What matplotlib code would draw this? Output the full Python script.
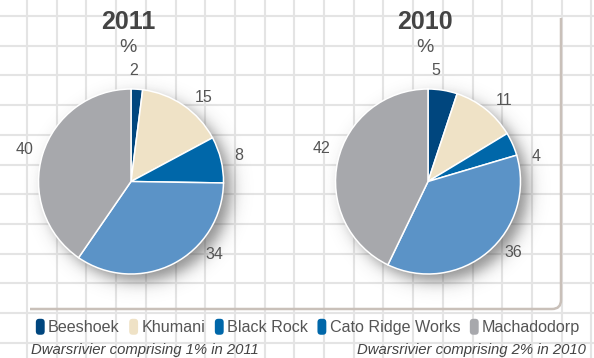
import numpy as np
import matplotlib
matplotlib.use("Agg")
import matplotlib.pyplot as plt
from matplotlib.patches import FancyBboxPatch, Patch, PathPatch
from matplotlib.legend_handler import HandlerPatch
from matplotlib.path import Path

plt.rcParams["font.family"] = ["Liberation Sans", "DejaVu Sans"]

# Data
mines = ["Beeshoek", "Khumani", "Black Rock", "Cato Ridge Works", "Machadodorp"]
years = ["2011", "2010"]
share_2011 = [2, 15, 8, 34, 40]
share_2010 = [5, 11, 4, 36, 42]
notes = ["Dwarsrivier comprising 1% in 2011", "Dwarsrivier comprising 2% in 2010"]

slice_colors = ["#00467e", "#efe2c6", "#0067a9", "#5b93c7", "#a7a8ac"]
legend_colors = ["#00467e", "#efe2c6", "#0067a9", "#0067a9", "#a7a8ac"]

# small angular nudges (degrees) so the value labels sit clear of each other
label_nudge = {
    "2011": [2.5, -6.6, 0.0, 21.7, 0.5],
    "2010": [4.9, -4.4, -11.1, 9.9, -4.3],
}

W, H = 594, 358
fig = plt.figure(figsize=(W / 100, H / 100), dpi=100)
fig.patch.set_facecolor("white")

# background grid
bg = fig.add_axes([0, 0, 1, 1])
bg.set_xlim(0, W)
bg.set_ylim(H, 0)
bg.axis("off")
step = 29.7
for x in np.arange(27, W, step):
    bg.axvline(x, color="#e4e4e4", lw=1.5, zorder=0)
for y in np.arange(16, H, step):
    bg.axhline(y, color="#e4e4e4", lw=1.5, zorder=0)

# rounded frame line on the right and bottom
r = 9
verts = [(561, 18), (561, 309 - r), (561, 309), (561 - r, 309), (30, 309)]
codes = [Path.MOVETO, Path.LINETO, Path.CURVE3, Path.CURVE3, Path.LINETO]
bg.add_patch(PathPatch(Path(verts, codes), fill=False, edgecolor="#c9c0b9",
                       lw=1.8, zorder=2))

R = 92.5
centers = {"2011": (131, 181.5), "2010": (428, 181.5)}
data = {"2011": share_2011, "2010": share_2010}


def shadow_image(ox, oy, spread):
    n = 300
    g = np.linspace(-1.4, 1.4, n)
    xx, yy = np.meshgrid(g, g)
    d = np.hypot(xx - ox, yy - oy)
    a = 0.5 * (1 - np.tanh((d - 1.0) / spread)) * 0.55
    img = np.zeros((n, n, 4))
    img[..., :3] = 0.2
    img[..., 3] = a
    return img


for yr in years:
    cx, cy = centers[yr]
    box = 260
    ax = fig.add_axes([(cx - box / 2) / W, 1 - (cy + box / 2) / H, box / W, box / H])

    vals = data[yr]
    wedges, _ = ax.pie(vals, colors=slice_colors, startangle=90,
                       counterclock=False, radius=1.0,
                       wedgeprops=dict(edgecolor="white", linewidth=1.1))
    for w in wedges:
        w.set_zorder(3)

    # soft drop shadow
    ax.imshow(shadow_image(0.08, -0.08, 0.1), extent=(-1.4, 1.4, -1.4, 1.4),
              origin="lower", zorder=0, interpolation="bilinear")

    lim = box / 2 / R
    ax.set_xlim(-lim, lim)
    ax.set_ylim(-lim, lim)
    ax.set_aspect("equal")
    ax.axis("off")

    for w, v, nudge in zip(wedges, vals, label_nudge[yr]):
        mid = np.deg2rad((w.theta1 + w.theta2) / 2 + nudge)
        ax.text(1.2 * np.cos(mid), 1.2 * np.sin(mid), str(v),
                ha="center", va="center", fontsize=11.5, color="#555555",
                zorder=4)

    fig.text((cx - 3) / W, 1 - 22 / H, yr, ha="center", va="center",
             fontsize=18, fontweight="bold", color="#444444")
    fig.text((cx - 3) / W, 1 - 48 / H, "%", ha="center", va="center",
             fontsize=14, color="#555555")


def rounded_handle(legend, orig_handle, xdescent, ydescent, width, height, fontsize):
    return FancyBboxPatch((-xdescent, -ydescent), width, height,
                          boxstyle="round,pad=0,rounding_size=2.5",
                          facecolor=orig_handle.get_facecolor(), edgecolor="none")


handles = [Patch(facecolor=c) for c in legend_colors]
fig.legend(handles, mines, loc="center", bbox_to_anchor=(308 / W, 1 - 327 / H),
           ncol=5, frameon=False, fontsize=11.6, handlelength=0.55,
           handleheight=1.15, handletextpad=0.2, columnspacing=0.6,
           labelcolor="#555555", borderpad=0.2,
           handler_map={Patch: HandlerPatch(patch_func=rounded_handle)})

fig.text(31 / W, 1 - 350 / H, notes[0], ha="left", va="center",
         fontsize=10.7, style="italic", color="#444444")
fig.text(586 / W, 1 - 350 / H, notes[1], ha="right", va="center",
         fontsize=10.7, style="italic", color="#444444")

fig.savefig("out.png", dpi=100)
